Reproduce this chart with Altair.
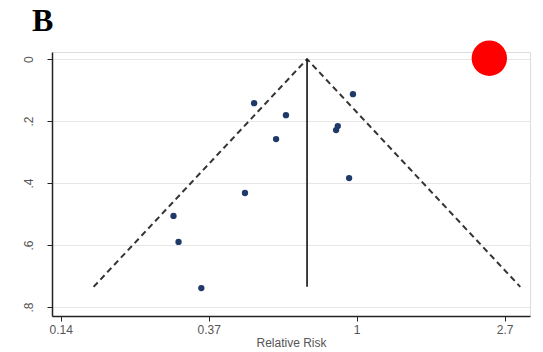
import altair as alt
import pandas as pd

# Study estimates (relative risk, standard error of log RR)
rr = [0.50, 0.62, 0.58, 0.975, 0.88, 0.87, 0.95, 0.47, 0.29, 0.30, 0.35]
se = [0.142, 0.181, 0.258, 0.113, 0.216, 0.229, 0.384, 0.432, 0.506, 0.590, 0.739]

# Pooled estimate and pseudo 95% confidence limits
pooled_rr = 0.715
ci_rr = [0.169, 0.715, 3.02]
ci_se = [0.735, 0.0, 0.735]

# Decorative marker in the top right
marker_rr = [2.45]
marker_se = [-0.003]

panel_label = ["B"]

x_ticks = [0.1353, 0.3679, 1.0, 2.7183]
y_ticks = [0.0, 0.2, 0.4, 0.6, 0.8]

pts = pd.DataFrame({"rr": rr, "se": se})
ci = pd.DataFrame({"rr": ci_rr, "se": ci_se, "order": [0, 1, 2]})
vline = pd.DataFrame({"rr": [pooled_rr], "se0": [0.0], "se1": [0.735]})
marker = pd.DataFrame({"rr": marker_rr, "se": marker_se})
label_df = pd.DataFrame({"t": panel_label})

xscale = alt.Scale(type="log", domain=[0.1276, 3.225], nice=False)
yscale = alt.Scale(domain=[-0.023, 0.829], reverse=True, nice=False, zero=False)

xaxis = alt.Axis(values=x_ticks, format=".2~g", title="Relative Risk", grid=False,
                 labelColor="#555555", labelFont="Liberation Sans", labelFontSize=12,
                 titleColor="#555555", titleFont="Liberation Sans", titleFontSize=12,
                 titleFontWeight="normal", titlePadding=2, domainColor="#222222",
                 domainWidth=1.5, tickColor="#222222", tickSize=5, labelPadding=3)
yaxis = alt.Axis(values=y_ticks, title=None, grid=True, gridColor="#e6e6e6",
                 labelExpr="datum.value == 0 ? '0' : replace(format(datum.value, '.1f'), '0.', '.')",
                 labelAngle=270, labelAlign="center", labelBaseline="bottom",
                 labelColor="#555555", labelFont="Liberation Sans", labelFontSize=12,
                 labelPadding=12, domainColor="#222222", domainWidth=1.5,
                 tickColor="#222222", tickSize=5)

base_x = alt.X("rr:Q", scale=xscale, axis=xaxis)

points = alt.Chart(pts).mark_circle(size=40, color="#1f3a68", opacity=1).encode(
    x=base_x, y=alt.Y("se:Q", scale=yscale, axis=yaxis))

lines = alt.Chart(ci).mark_line(color="#333333", strokeDash=[6, 4], strokeWidth=2).encode(
    x=alt.X("rr:Q", scale=xscale), y=alt.Y("se:Q", scale=yscale), order="order:Q")

rule = alt.Chart(vline).mark_rule(color="#111111", strokeWidth=1.6).encode(
    x=alt.X("rr:Q", scale=xscale), y=alt.Y("se0:Q", scale=yscale), y2="se1:Q")

red = alt.Chart(marker).mark_circle(size=1250, color="#ff0000", opacity=1).encode(
    x=alt.X("rr:Q", scale=xscale), y=alt.Y("se:Q", scale=yscale))

label = alt.Chart(label_df).mark_text(
    font="Liberation Serif", fontSize=32, fontWeight="bold", color="#000000",
    align="left", baseline="alphabetic").encode(
    text="t:N", x=alt.value(-20), y=alt.value(-21))

chart = alt.layer(points, lines, rule, red, label).properties(
    width=478, height=264,
    autosize=alt.AutoSizeParams(type="none"),
    padding={"left": 44, "top": 44, "right": 5, "bottom": 36},
).configure_view(stroke=None).configure(background="white")

chart.save("out.html", embed_options={"renderer": "svg", "actions": False})
